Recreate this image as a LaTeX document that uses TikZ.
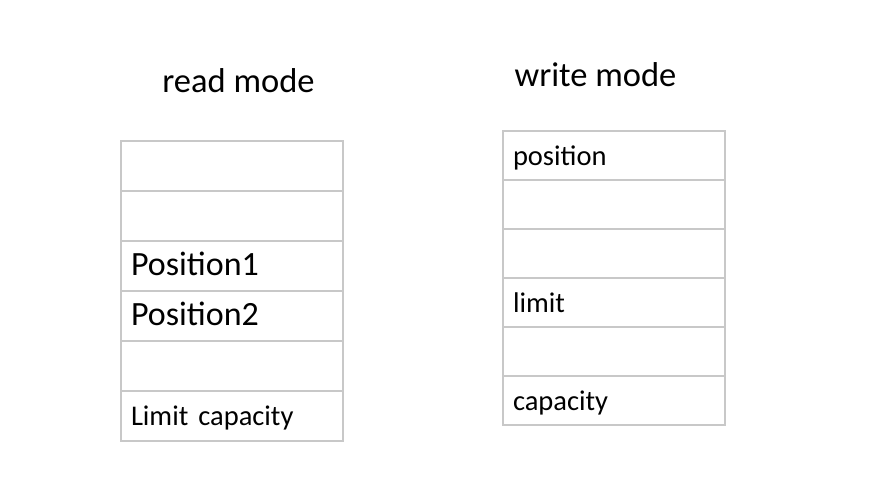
\documentclass[tikz,border=0pt]{standalone}
\usepackage{fontspec}
\setmainfont{Carlito}
\definecolor{gridgray}{RGB}{200,200,200}
\newcommand{\posfont}{\fontsize{34}{37}\selectfont}

\begin{document}
\begin{tikzpicture}[
		x=1pt,y=-1pt,
		cell/.style={draw=gridgray,line width=2pt,inner sep=0pt,
			minimum width=222pt,text width=202pt,align=left,
			text height=24pt,text depth=5pt,font=\fontsize{28.5}{31}\selectfont},
		modetitle/.style={anchor=base,font=\fontsize{34.5}{38}\selectfont}
		]
		\useasboundingbox (0,0) rectangle (884,496);
		% titles
		\node[modetitle] (readtitle) at (238.5,92) {read mode};
		\node[modetitle] (writetitle) at (595.5,86) {write mode};
		% read mode buffer
		\foreach \t [count=\i] in {{},{},{\posfont Position1},{\posfont Position2},{},{Limit\hspace{0.35em}capacity}}
		\node[cell,minimum height=50pt] (r\i) at (232,116+50*\i) {\t};
		% write mode buffer
		\foreach \t [count=\i] in {position,{},{},limit,{},capacity}
		\node[cell,minimum height=49pt] (w\i) at (614,106.5+49*\i) {\t};
	\end{tikzpicture}
\end{document}
